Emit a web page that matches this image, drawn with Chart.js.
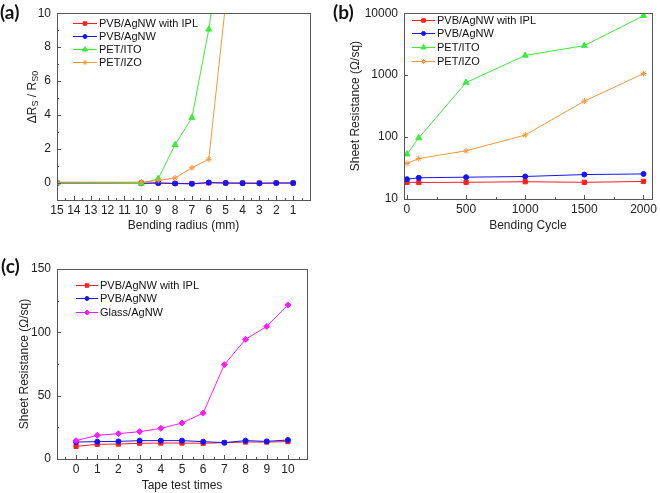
<!DOCTYPE html>
<html>
<head>
<meta charset="utf-8">
<script src="https://cdn.jsdelivr.net/npm/chart.js@4.4.1/dist/chart.umd.min.js"></script>
<style>
body { margin: 0; background: #fff; }
#wrap { position: relative; width: 660px; height: 493px; font-family: "Liberation Sans", Arial, sans-serif; color: #222; }
canvas { position: absolute; }
.tag { position: absolute; font-family: Lato, sans-serif; font-weight: bold; font-size: 19px; color: #111; }
#ytA { position: absolute; left: 31.7px; top: 97px; transform: translate(-50%, -50%) rotate(-90deg); font-size: 12px; white-space: nowrap; }
#ytA sub { font-size: 9px; vertical-align: -2px; }
</style>
</head>
<body>
<div id="wrap">
  <canvas id="chartA" width="330" height="240" style="left:0;top:0"></canvas>
  <canvas id="chartB" width="330" height="240" style="left:330px;top:0"></canvas>
  <canvas id="chartC" width="330" height="253" style="left:0;top:240px"></canvas>
  <div class="tag" style="left:0;top:0">(a)</div>
  <div class="tag" style="left:333px;top:0">(b)</div>
  <div class="tag" style="left:1px;top:254px">(c)</div>
  <div id="ytA">&Delta;R<sub>S</sub> / R<sub>S0</sub></div>
</div>
<script>
// (a) bending radius test
const radiusA = [15, 10, 9, 8, 7, 6, 5, 4, 3, 2, 1];
const iplA = [0.01, 0, 0, -0.02, -0.03, 0.01, 0, 0, 0, 0, 0];
const agnwA = [0, -0.02, 0, -0.03, -0.05, 0.03, 0, -0.01, -0.02, 0, 0];
const itoA = [0, -0.03, 0.25, 2.25, 3.85, 9.05, 16];
const izoA = [0.05, 0.05, 0.15, 0.3, 0.9, 1.4, 10.6];
const xTicksA = [15, 14, 13, 12, 11, 10, 9, 8, 7, 6, 5, 4, 3, 2, 1];
const yTicksA = [0, 2, 4, 6, 8, 10];

// (b) bending cycles
const cycleB = [0, 100, 500, 1000, 1500, 2000];
const iplB = [18.6, 18.5, 18.6, 19.0, 18.6, 19.2];
const agnwB = [20.9, 22.0, 22.5, 23.1, 24.8, 25.4];
const itoB = [53, 97, 760, 2080, 3000, 9100];
const izoB = [37.5, 45, 60, 108, 380, 1060];
const xTicksB = [0, 500, 1000, 1500, 2000];
const yTicksB = [10, 100, 1000, 10000];

// (c) tape test
const timesC = [0, 1, 2, 3, 4, 5, 6, 7, 8, 9, 10];
const iplC = [10, 11.6, 11.8, 12.4, 12.6, 12.6, 12.4, 12.9, 13.4, 13.4, 13.7];
const agnwC = [13.4, 13.7, 13.9, 14.5, 14.5, 14.5, 13.7, 12.9, 14.5, 13.9, 15];
const glassC = [14.5, 18.7, 20, 21.6, 24.2, 28.4, 36.3, 74.5, 94.5, 104.7, 121.6];
const yTicksC = [0, 50, 100, 150];

const RED = '#ff1f1f', BLUE = '#1414ff', GREEN = '#3ceb3c', ORANGE = '#f5973a', MAGENTA = '#ff19ff';

function series(label, xs, ys, color, style, r) {
    return {
        label: label,
        data: ys.map((y, i) => ({ x: xs[i], y: y })),
        borderColor: color,
        backgroundColor: color,
        borderWidth: 1,
        pointStyle: style,
        pointRadius: r,
        pointHoverRadius: r,
        pointBorderWidth: 1
    };
}

// frame box, inward ticks and an in-plot legend, Origin style
const originPlugin = {
    id: 'origin',
    afterDraw(chart, args, opts) {
        const ctx = chart.ctx;
        const a = chart.chartArea;
        const xs = chart.scales.x, ys = chart.scales.y;
        ctx.save();
        ctx.strokeStyle = '#555';
        ctx.lineWidth = 1;
        ctx.beginPath();
        xs.ticks.forEach(t => {
            const px = Math.round(xs.getPixelForValue(t.value)) + 0.5;
            ctx.moveTo(px, a.bottom); ctx.lineTo(px, a.bottom - 4);
        });
        (opts.minorX || []).forEach(v => {
            const px = Math.round(xs.getPixelForValue(v)) + 0.5;
            ctx.moveTo(px, a.bottom); ctx.lineTo(px, a.bottom - 2);
        });
        ys.ticks.forEach(t => {
            const py = Math.round(ys.getPixelForValue(t.value)) + 0.5;
            ctx.moveTo(a.left, py); ctx.lineTo(a.left + 4, py);
        });
        (opts.minorY || []).forEach(v => {
            const py = Math.round(ys.getPixelForValue(v)) + 0.5;
            ctx.moveTo(a.left, py); ctx.lineTo(a.left + 2, py);
        });
        ctx.stroke();
        ctx.strokeRect(Math.round(a.left) + 0.5, Math.round(a.top) + 0.5,
            Math.round(a.right - a.left), Math.round(a.bottom - a.top));

        const lg = opts.legend;
        ctx.font = '11px "Liberation Sans", Arial, sans-serif';
        ctx.textBaseline = 'middle';
        chart.data.datasets.forEach((ds, i) => {
            const y = Math.round(lg.y + i * lg.step) + 0.5;
            ctx.strokeStyle = ds.borderColor;
            ctx.fillStyle = ds.borderColor;
            ctx.lineWidth = 1;
            ctx.beginPath();
            ctx.moveTo(lg.x, y); ctx.lineTo(lg.x + lg.len, y);
            ctx.stroke();
            Chart.helpers.drawPoint(ctx, { pointStyle: ds.pointStyle, radius: ds.pointRadius - 0.5, borderWidth: 1, rotation: 0 },
                lg.x + lg.len / 2, y);
            ctx.fillStyle = '#111';
            ctx.fillText(ds.label, lg.x + lg.len + 2, y + 0.5);
        });
        ctx.restore();
    }
};

const tickFont = { family: '"Liberation Sans", Arial, sans-serif', size: 12 };
const titleFont = { family: '"Liberation Sans", Arial, sans-serif', size: 12 };

function makeChart(id, datasets, cfg) {
    datasets.forEach((d, i) => { d.order = -i; });
    return new Chart(document.getElementById(id), {
        type: 'line',
        data: { datasets: datasets },
        plugins: [originPlugin],
        options: {
            responsive: false,
            animation: false,
            devicePixelRatio: 1,
            layout: { padding: cfg.padding },
            plugins: {
                legend: { display: false },
                tooltip: { enabled: false },
                origin: { legend: cfg.legend, minorX: cfg.minorX, minorY: cfg.minorY }
            },
            scales: {
                x: Object.assign({
                    type: 'linear',
                    grid: { display: false, drawTicks: false },
                    border: { display: false },
                    ticks: { font: tickFont, color: '#222', padding: 3, autoSkip: false, maxRotation: 0,
                        callback: v => String(v) },
                    afterBuildTicks: s => { s.ticks = cfg.xTicks.map(v => ({ value: v })); },
                    afterFit: s => { s.height = cfg.xHeight; },
                    title: { display: true, text: cfg.xTitle, font: titleFont, color: '#222', padding: { top: 0, bottom: cfg.xTitlePad } }
                }, cfg.x),
                y: Object.assign({
                    type: 'linear',
                    grid: { display: false, drawTicks: false },
                    border: { display: false },
                    ticks: { font: tickFont, color: '#222', padding: 6, autoSkip: false,
                        callback: v => String(v) },
                    afterBuildTicks: s => { s.ticks = cfg.yTicks.map(v => ({ value: v })); },
                    afterFit: s => { s.width = cfg.yWidth; },
                    title: { display: !!cfg.yTitle, text: cfg.yTitle, font: titleFont, color: '#222', padding: { top: cfg.yTitlePad || 0, bottom: 0 } }
                }, cfg.y)
            }
        }
    });
}

function halves(lo, hi) {
    const out = [];
    for (let v = lo + 0.5; v < hi; v += 1) out.push(v);
    return out;
}

makeChart('chartA', [
    series('PVB/AgNW with IPL', radiusA, iplA, RED, 'rect', 3),
    series('PVB/AgNW', radiusA, agnwA, BLUE, 'circle', 2.5),
    series('PET/ITO', radiusA, itoA, GREEN, 'triangle', 3.5),
    series('PET/IZO', radiusA, izoA, ORANGE, 'star', 3)
], {
    padding: { top: 8, right: 20, left: 0, bottom: 0 },
    xHeight: 40, yWidth: 57, xTitlePad: 7,
    xTitle: 'Bending radius (mm)', yTitle: '',
    xTicks: xTicksA, yTicks: yTicksA,
    minorX: halves(0, 15), minorY: [1, 3, 5, 7, 9],
    x: { min: 0, max: 15, reverse: true },
    y: { min: -1, max: 10 },
    legend: { x: 73, y: 22.5, step: 13, len: 24 }
});

makeChart('chartB', [
    series('PVB/AgNW with IPL', cycleB, iplB, RED, 'rect', 3),
    series('PVB/AgNW', cycleB, agnwB, BLUE, 'circle', 2.5),
    series('PET/ITO', cycleB, itoB, GREEN, 'triangle', 3.5),
    series('PET/IZO', cycleB, izoB, ORANGE, 'star', 3)
], {
    padding: { top: 9, right: 5, left: 0, bottom: 0 },
    xHeight: 41, yWidth: 74, xTitlePad: 7, yTitlePad: 18,
    xTitle: 'Bending Cycle', yTitle: 'Sheet Resistance (\u03A9/sq)',
    xTicks: xTicksB, yTicks: yTicksB,
    minorX: [250, 750, 1250, 1750], minorY: [],
    x: { min: -25, max: 2070 },
    y: { type: 'logarithmic', min: 10, max: 10000 },
    legend: { x: 82, y: 19.5, step: 13.8, len: 23 }
});

makeChart('chartC', [
    series('PVB/AgNW with IPL', timesC, iplC, RED, 'rect', 3),
    series('PVB/AgNW', timesC, agnwC, BLUE, 'circle', 2.5),
    series('Glass/AgNW', timesC, glassC, MAGENTA, 'rectRot', 3)
], {
    padding: { top: 29, right: 23, left: 0, bottom: 0 },
    xHeight: 34, yWidth: 57, xTitlePad: 0, yTitlePad: 17,
    xTitle: 'Tape test times', yTitle: 'Sheet Resistance (\u03A9/sq)',
    xTicks: timesC, yTicks: yTicksC,
    minorX: halves(-1, 11), minorY: [25, 75, 125],
    x: { min: -0.9, max: 10.9 },
    y: { min: 0, max: 150 },
    legend: { x: 76, y: 44.5, step: 13.7, len: 22 }
});
</script>
</body>
</html>
